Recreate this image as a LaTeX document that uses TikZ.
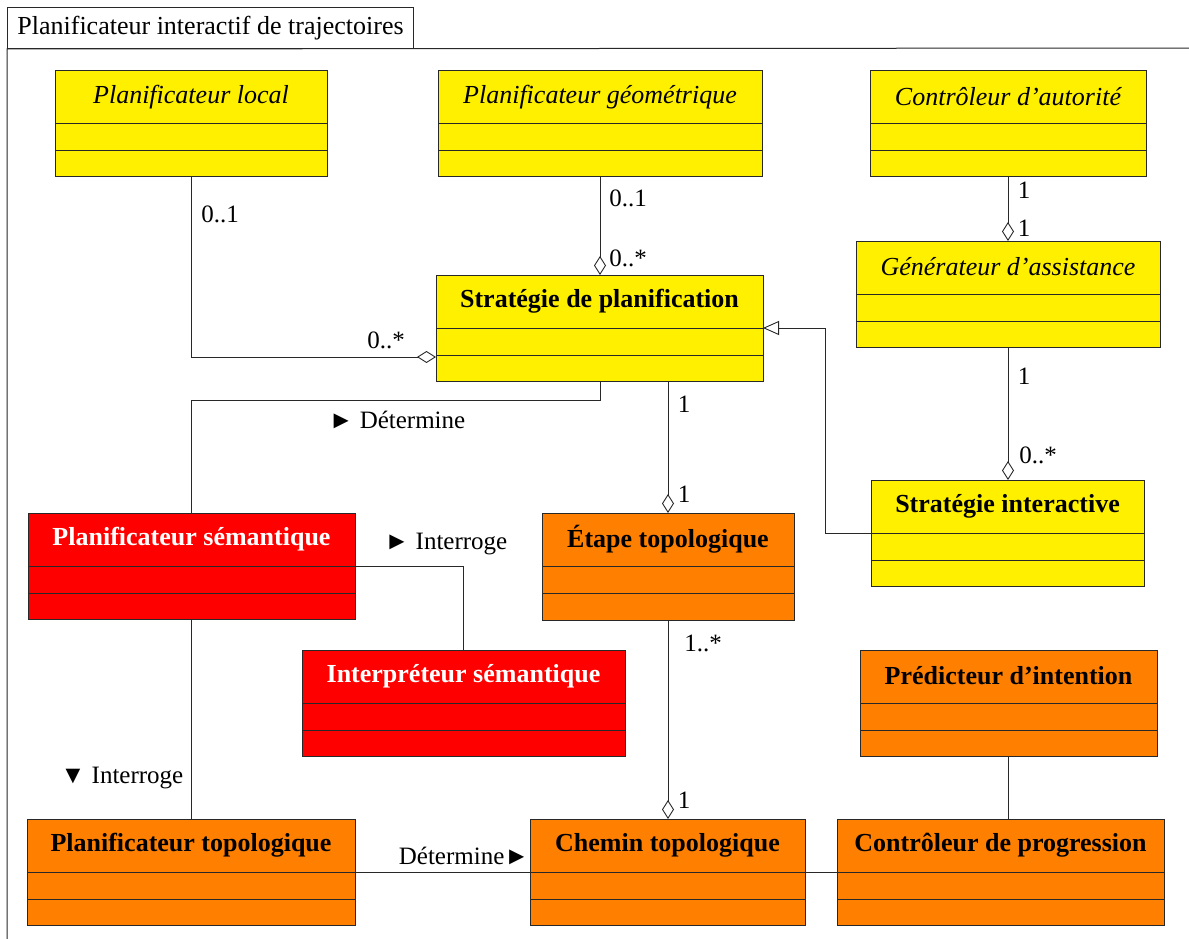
\documentclass[tikz,border=0pt]{standalone}
\usepackage{fontspec}
\setmainfont{Liberation Serif}
\usetikzlibrary{arrows.meta,calc}
\definecolor{umlyellow}{RGB}{255,240,0}
\definecolor{umlorange}{RGB}{255,128,0}
\definecolor{umlred}{RGB}{255,0,0}
\definecolor{umlline}{RGB}{40,40,40}
\tikzset{
  clsbox/.style={draw=umlline, line width=1pt, inner sep=0pt, outer sep=0pt},
  sepline/.style={draw=umlline, line width=1pt},
  clstitle/.style={inner sep=0pt, font=\fontsize{26}{30}\selectfont},
  conn/.style={draw=umlline, line width=0.8pt},
  agg/.style={conn, -{Diamond[open,length=19pt,width=12pt,line width=0.9pt]}},
  gen/.style={conn, -{Triangle[open,length=16pt,width=14pt,line width=0.9pt]}},
  lbl/.style={inner sep=0pt, font=\fontsize{25}{30}\selectfont},
}
\newcommand{\umlclass}[8]{%
  \node[clsbox, fill=#6, minimum width={(#4-#2)*1pt}, minimum height={(#5-#3)*1pt}, anchor=north west] (#1) at (#2,#3) {};
  \draw[sepline] ([yshift=-53pt]#1.north west) -- ([yshift=-53pt]#1.north east);
  \draw[sepline] ([yshift=-80pt]#1.north west) -- ([yshift=-80pt]#1.north east);
  \node[clstitle, text=#7] (#1-t) at ([yshift=-26pt]#1.north) {#8};
}
\begin{document}
\begin{tikzpicture}[x=1pt,y=-1pt]
\useasboundingbox (0,0) rectangle (1189,939);
% package frame
\node[draw=umlline, line width=1pt, minimum width=406pt, minimum height=41pt, anchor=north west, inner sep=0pt] (tab) at (7,7) {};
\node[lbl, font=\fontsize{26}{30}\selectfont] (tabt) at (tab.center) {Planificateur interactif de trajectoires};
\coordinate (fr) at (1195,48);
\coordinate (fb) at (7,945);
\draw[draw=umlline, line width=1pt] (fr) -- (tab.south west) -- (fb);

% classes
\umlclass{plocal}{55}{71}{327}{177}{umlyellow}{black}{\itshape Planificateur local}
\umlclass{pgeo}{438}{71}{762}{177}{umlyellow}{black}{\itshape Planificateur géométrique}
\umlclass{cauto}{870}{71}{1146}{177}{umlyellow}{black}{\itshape Contrôleur d’autorité}
\umlclass{gass}{856}{241}{1160}{347}{umlyellow}{black}{\itshape Générateur d’assistance}
\umlclass{strat}{436}{275}{763}{381}{umlyellow}{black}{\bfseries Stratégie de planification}
\umlclass{sint}{871}{480}{1144}{586}{umlyellow}{black}{\bfseries Stratégie interactive}
\umlclass{psem}{28}{513}{355}{619}{umlred}{white}{\bfseries Planificateur sémantique}
\umlclass{etape}{542}{513}{794}{620}{umlorange}{black}{\bfseries Étape topologique}
\umlclass{interp}{302}{650}{625}{756}{umlred}{white}{\bfseries Interpréteur sémantique}
\umlclass{pred}{860}{650}{1157}{756}{umlorange}{black}{\bfseries Prédicteur d’intention}
\umlclass{ptopo}{27}{819}{355}{925}{umlorange}{black}{\bfseries Planificateur topologique}
\umlclass{chemin}{530}{819}{805}{925}{umlorange}{black}{\bfseries Chemin topologique}
\umlclass{cprog}{837}{819}{1164}{925}{umlorange}{black}{\bfseries Contrôleur de progression}

% connectors
\draw[agg] (plocal.south) |- ([yshift=24pt]strat.south west);
\draw[agg] (pgeo.south) -- (pgeo.south |- strat.north);
\draw[agg] (cauto.south) -- (cauto.south |- gass.north);
\draw[agg] (gass.south) -- (gass.south |- sint.north);
\draw[gen] ([yshift=-53pt]sint.north west) -- ++(-46,0) |- (strat.east);
\draw[agg] (strat.south -| etape.north) -- (etape.north);
\draw[conn] (pgeo.south |- strat.south) -- ++(0,19) -| (psem.north);
\draw[conn] ([yshift=-53pt]psem.north east) -| (interp.north);
\draw[conn] (psem.south) -- (psem.south |- ptopo.north);
\draw[conn] ([yshift=-53pt]ptopo.north east) -- ([yshift=-53pt]chemin.north west);
\draw[agg] (etape.south) -- (etape.south |- chemin.north);
\draw[conn] ([yshift=-53pt]chemin.north east) -- ([yshift=-53pt]cprog.north west);
\draw[conn] (pred.south) -- (pred.south |- cprog.north);

% labels
\node[lbl] (l1) at (220,214) {0..1};
\node[lbl] (l2) at (386,340) {0..*};
\node[lbl] (l3) at (628,198) {0..1};
\node[lbl] (l4) at (628,258) {0..*};
\node[lbl] (l5) at (1024,190) {1};
\node[lbl] (l6) at (1024,228) {1};
\node[lbl] (l7) at (1024,376) {1};
\node[lbl] (l8) at (1038,455) {0..*};
\node[lbl] (l9) at (684,404) {1};
\node[lbl] (l10) at (684,494) {1};
\node[lbl] (l11) at (397,420) {► Détermine};
\node[lbl] (l12) at (446,544) {► Interroge};
\node[lbl] (l13) at (122,778) {▼ Interroge};
\node[lbl] (l14) at (464,856) {Détermine►};
\node[lbl] (l15) at (703,643) {1..*};
\node[lbl] (l16) at (684,800) {1};
\end{tikzpicture}
\end{document}
